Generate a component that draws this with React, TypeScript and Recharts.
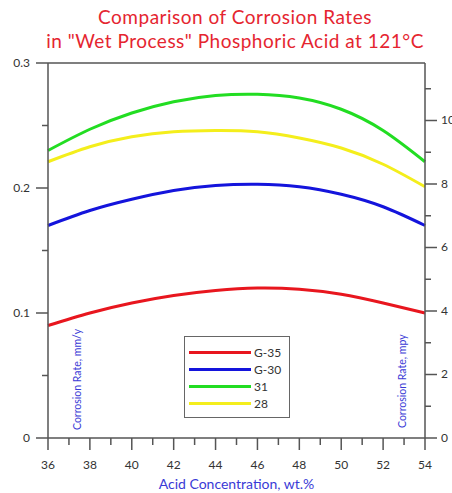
import React from "react";
import {
  LineChart,
  Line,
  XAxis,
  YAxis,
  ReferenceLine,
  Legend
} from "recharts";

const concentration = [36, 38, 40, 42, 44, 46, 48, 50, 52, 54];
const g35 = [0.090, 0.100, 0.108, 0.114, 0.118, 0.120, 0.119, 0.115, 0.108, 0.100];
const g30 = [0.170, 0.182, 0.191, 0.198, 0.202, 0.203, 0.201, 0.195, 0.185, 0.170];
const a31 = [0.230, 0.247, 0.260, 0.269, 0.274, 0.275, 0.272, 0.263, 0.246, 0.221];
const a28 = [0.221, 0.233, 0.241, 0.245, 0.246, 0.245, 0.240, 0.232, 0.219, 0.201];

const xTicks = [36, 37, 38, 39, 40, 41, 42, 43, 44, 45, 46, 47, 48, 49, 50, 51, 52, 53, 54];
const mmTicks = [0, 0.05, 0.1, 0.15, 0.2, 0.25, 0.3];
const mpyTicks = [0, 1, 2, 3, 4, 5, 6, 7, 8, 9, 10, 11];

const series = [
  { key: "G-35", values: g35, color: "#e8161e" },
  { key: "G-30", values: g30, color: "#1414dc" },
  { key: "31", values: a31, color: "#22dd22" },
  { key: "28", values: a28, color: "#f4ee1c" }
];

const data = concentration.map((c, i) => {
  const row: { [key: string]: number } = { conc: c };
  series.forEach((s) => {
    row[s.key] = s.values[i];
  });
  return row;
});

const AXIS = "#555555";
const FONT = "Lato, 'Open Sans', sans-serif";

const XTick = (props: any) => {
  const { x, y, payload } = props;
  const major = payload.value % 2 === 0;
  return (
    <g>
      <line x1={x} x2={x} y1={y} y2={y + (major ? 12 : 7)} stroke={AXIS} strokeWidth={1.5} />
      {major && (
        <text x={x} y={y + 31} textAnchor="middle" fontSize={12} fill="#333" fontFamily={FONT}>
          {payload.value}
        </text>
      )}
    </g>
  );
};

const LeftTick = (props: any) => {
  const { x, y, payload } = props;
  const major = Math.round(payload.value * 100) % 10 === 0;
  return (
    <g>
      <line x1={x} x2={x - (major ? 12 : 6)} y1={y} y2={y} stroke={AXIS} strokeWidth={1.5} />
      {major && (
        <text x={x - 18} y={y + 4} textAnchor="end" fontSize={12} fill="#333" fontFamily={FONT}>
          {payload.value}
        </text>
      )}
    </g>
  );
};

const RightTick = (props: any) => {
  const { x, y, payload } = props;
  const major = payload.value % 2 === 0;
  return (
    <g>
      <line x1={x} x2={x + (major ? 12 : 6)} y1={y} y2={y} stroke={AXIS} strokeWidth={1.5} />
      {major && (
        <text x={x + 16} y={y + 4} textAnchor="start" fontSize={12} fill="#333" fontFamily={FONT}>
          {payload.value}
        </text>
      )}
    </g>
  );
};

const LegendBox = () => (
  <div
    style={{
      width: 100,
      border: "1.5px solid #666",
      padding: "7px 0 5px 4px",
      background: "#fff",
      fontFamily: FONT,
      fontSize: 12,
      color: "#333"
    }}
  >
    {series.map((s) => (
      <div key={s.key} style={{ display: "flex", alignItems: "center", height: 17 }}>
        <div style={{ width: 62, height: 3, background: s.color, marginRight: 3 }} />
        <span>{s.key}</span>
      </div>
    ))}
  </div>
);

export default function App() {
  return (
    <div style={{ position: "absolute", left: 0, top: 0, width: 452, height: 493, background: "#fff" }}>
      <div
        style={{
          position: "absolute",
          left: 0,
          top: 5,
          width: 470,
          textAlign: "center",
          color: "#e52530",
          fontFamily: FONT,
          fontSize: 19,
          letterSpacing: 0.5,
          lineHeight: "24px"
        }}
      >
        <div>Comparison of Corrosion Rates</div>
        <div>in "Wet Process" Phosphoric Acid at 121°C</div>
      </div>
      <LineChart
        width={452}
        height={493}
        data={data}
        margin={{ top: 63, right: 0, left: 0, bottom: 0 }}
        style={{ position: "absolute", left: 0, top: 0 }}
      >
        <XAxis
          dataKey="conc"
          type="number"
          domain={[36, 54]}
          ticks={xTicks}
          interval={0}
          height={55}
          tickSize={0}
          tickMargin={0}
          tickLine={false}
          tick={<XTick />}
          stroke={AXIS}
          strokeWidth={1.5}
          label={{
            value: "Acid Concentration, wt.%",
            position: "insideBottom",
            offset: 4,
            fill: "#3a3ad6",
            fontSize: 14,
            fontFamily: FONT
          }}
        />
        <YAxis
          yAxisId="mm"
          type="number"
          domain={[0, 0.3]}
          ticks={mmTicks}
          interval={0}
          width={48}
          tickSize={0}
          tickMargin={0}
          tickLine={false}
          tick={<LeftTick />}
          stroke={AXIS}
          strokeWidth={1.5}
          label={{
            value: "Corrosion Rate, mm/y",
            content: () => (
              <text
                transform="translate(81,430) rotate(-90)"
                fontSize={10.5}
                fill="#3a3ad6"
                fontFamily={FONT}
              >
                Corrosion Rate, mm/y
              </text>
            )
          }}
        />
        <YAxis
          yAxisId="mpy"
          orientation="right"
          type="number"
          domain={[0, 0.3 * 39.37]}
          ticks={mpyTicks}
          interval={0}
          width={27}
          tickSize={0}
          tickMargin={0}
          tickLine={false}
          tick={<RightTick />}
          stroke={AXIS}
          strokeWidth={1.5}
          allowDataOverflow
          label={{
            value: "Corrosion Rate, mpy",
            content: () => (
              <text
                transform="translate(406,428) rotate(-90)"
                fontSize={10.5}
                fill="#3a3ad6"
                fontFamily={FONT}
              >
                Corrosion Rate, mpy
              </text>
            )
          }}
        />
        <ReferenceLine yAxisId="mm" y={0.3} stroke={AXIS} strokeWidth={1.5} />
        {series.map((s) => (
          <Line
            key={s.key}
            yAxisId="mm"
            type="natural"
            dataKey={s.key}
            stroke={s.color}
            strokeWidth={3}
            dot={false}
            isAnimationActive={false}
          />
        ))}
        <Legend
          layout="vertical"
          align="center"
          verticalAlign="middle"
          content={<LegendBox />}
          wrapperStyle={{ position: "absolute", left: 184, top: 336, width: 106 }}
        />
      </LineChart>
    </div>
  );
}
